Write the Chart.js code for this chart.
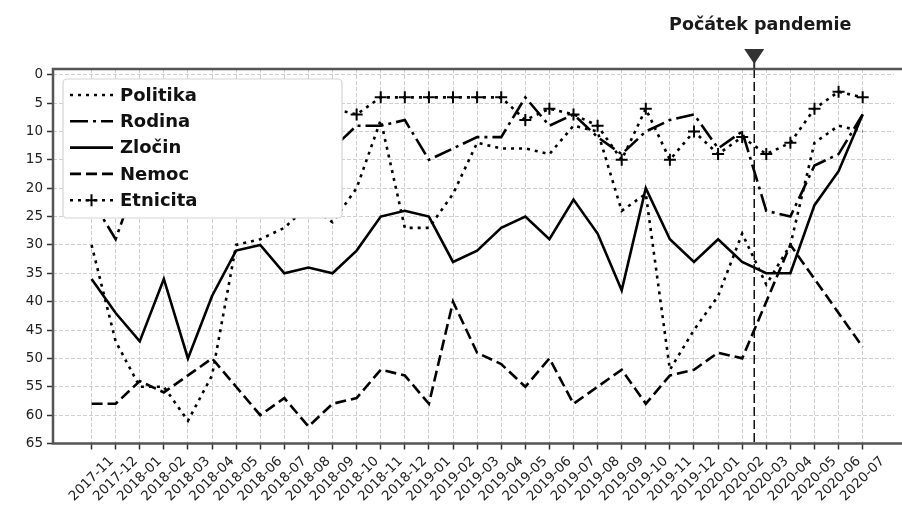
<!DOCTYPE html>
<html>
<head>
<meta charset="utf-8">
<title>Počátek pandemie</title>
<script src="https://cdn.jsdelivr.net/npm/chart.js@4.4.1/dist/chart.umd.min.js"></script>
<style>
  html, body { margin: 0; padding: 0; background: #fff; overflow: hidden; }
  #topics { display: block; }
</style>
</head>
<body>
<canvas id="topics" width="902" height="508"></canvas>
<script>
/*!
* data (rank of each topic per month, 1 = top)
*/
var months = ['2017-11', '2017-12', '2018-01', '2018-02', '2018-03', '2018-04', '2018-05', '2018-06',
    '2018-07', '2018-08', '2018-09', '2018-10', '2018-11', '2018-12', '2019-01', '2019-02', '2019-03',
    '2019-04', '2019-05', '2019-06', '2019-07', '2019-08', '2019-09', '2019-10', '2019-11', '2019-12',
    '2020-01', '2020-02', '2020-03', '2020-04', '2020-05', '2020-06', '2020-07'];
var politika = [30, 47, 55, 55, 61, 53, 30, 29, 27, 23, 26, 20, 8, 27, 27, 21, 12, 13, 13, 14, 9, 10, 24, 21, 52, 45, 39, 28, 37, 30, 12, 9, 10];
var rodina = [22, 29, 17, 15, 16, 13, 12, 14, 11, 12, 13, 9, 9, 8, 15, 13, 11, 11, 4, 9, 7, 11, 14, 10, 8, 7, 13, 10, 24, 25, 16, 14, 7];
var zlocin = [36, 42, 47, 36, 50, 39, 31, 30, 35, 34, 35, 31, 25, 24, 25, 33, 31, 27, 25, 29, 22, 28, 38, 20, 29, 33, 29, 33, 35, 35, 23, 17, 7];
var nemoc = [58, 58, 54, 56, 53, 50, 55, 60, 57, 62, 58, 57, 52, 53, 58, 40, 49, 51, 55, 50, 58, 55, 52, 58, 53, 52, 49, 50, 40, 30, 36, 42, 48];
var etnicita = [14, 15, 10, 8, 9, 7, 8, 6, 7, 5, 6, 7, 4, 4, 4, 4, 4, 4, 8, 6, 7, 9, 15, 6, 15, 10, 14, 11, 14, 12, 6, 3, 4];
var yTicks = [0, 5, 10, 15, 20, 25, 30, 35, 40, 45, 50, 55, 60, 65];
var pandemicAt = 27.5;   // between 2020-02 and 2020-03
var pandemicLabel = 'Počátek pandemie';

var FONT = 'DejaVu Sans';
var DOTTED = [3, 5];
var DASHED = [11, 5];
var DASHDOT = [18, 5, 3, 5];

Chart.defaults.font.family = FONT;

function series(label, values, dash, marker) {
    return {
        label: label,
        data: values.map(function (v, i) { return {x: i, y: v}; }),
        borderColor: '#000',
        backgroundColor: '#000',
        borderWidth: 2.6,
        borderDash: dash,
        borderCapStyle: 'butt',
        borderJoinStyle: 'miter',
        fill: false,
        tension: 0,
        pointStyle: 'cross',
        pointRadius: marker ? 6 : 0,
        pointHoverRadius: marker ? 6 : 0,
        pointBorderWidth: 2,
        pointBorderColor: '#000',
        marker: marker
    };
}

function roundBox(ctx, x, y, w, h, r) {
    ctx.beginPath();
    ctx.moveTo(x + r, y);
    ctx.arcTo(x + w, y, x + w, y + h, r);
    ctx.arcTo(x + w, y + h, x, y + h, r);
    ctx.arcTo(x, y + h, x, y, r);
    ctx.arcTo(x, y, x + w, y, r);
    ctx.closePath();
}

/*!
* extras: pandemic marker, spines, rotated month labels, legend box
*/
var decor = {
    id: 'decor',
    afterDraw: function (chart) {
        var ctx = chart.ctx;
        var area = chart.chartArea;
        var xs = chart.scales.x;
        var px = xs.getPixelForValue(pandemicAt);

        ctx.save();
        // vertical dashed line
        ctx.strokeStyle = '#111';
        ctx.lineWidth = 1.5;
        ctx.setLineDash([9, 4]);
        ctx.beginPath();
        ctx.moveTo(px, area.top);
        ctx.lineTo(px, area.bottom);
        ctx.stroke();
        ctx.setLineDash([]);

        // spines (the right one lies just outside the picture)
        ctx.strokeStyle = '#555';
        ctx.lineWidth = 2.5;
        ctx.beginPath();
        ctx.moveTo(chart.width, area.top);
        ctx.lineTo(area.left, area.top);
        ctx.lineTo(area.left, area.bottom);
        ctx.lineTo(chart.width, area.bottom);
        ctx.stroke();

        // arrow head above the plot
        ctx.fillStyle = '#333';
        ctx.beginPath();
        ctx.moveTo(px - 10, area.top - 20);
        ctx.lineTo(px + 10, area.top - 20);
        ctx.lineTo(px, area.top - 5);
        ctx.closePath();
        ctx.fill();
        ctx.strokeStyle = '#333';
        ctx.lineWidth = 2;
        ctx.beginPath();
        ctx.moveTo(px, area.top - 8);
        ctx.lineTo(px, area.top);
        ctx.stroke();

        ctx.fillStyle = '#1a1a1a';
        ctx.font = 'bold 17.5px "' + FONT + '"';
        ctx.textAlign = 'center';
        ctx.textBaseline = 'alphabetic';
        ctx.fillText(pandemicLabel, px + 6, 30);

        // month labels, rotated 45 deg and centred on their ticks
        ctx.fillStyle = '#222';
        ctx.font = '13.5px "' + FONT + '"';
        ctx.textAlign = 'center';
        ctx.textBaseline = 'middle';
        months.forEach(function (m, i) {
            var x = xs.getPixelForValue(i);
            var w = ctx.measureText(m).width;
            var h = 13.5 * 1.17;
            var cy = area.bottom + 10 + (w + h) * 0.3536;
            ctx.save();
            ctx.translate(x, cy);
            ctx.rotate(-Math.PI / 4);
            ctx.fillText(m, 0, 0);
            ctx.restore();
        });

        // legend, opaque box over the lines
        var lx = area.left + 10, ly = area.top + 10, lw = 279, lh = 139;
        ctx.fillStyle = '#ffffff';
        ctx.fillRect(lx, ly, lw, lh);
        roundBox(ctx, lx, ly, lw, lh, 4);
        ctx.strokeStyle = '#d4d4d4';
        ctx.lineWidth = 1.2;
        ctx.stroke();

        ctx.font = 'bold 18px "' + FONT + '"';
        ctx.textAlign = 'left';
        ctx.textBaseline = 'middle';
        chart.data.datasets.forEach(function (ds, i) {
            var ry = ly + 16 + i * 26.3;
            var x0 = lx + 7, x1 = lx + 50;
            ctx.strokeStyle = '#000';
            ctx.lineWidth = ds.borderWidth;
            ctx.lineCap = 'butt';
            ctx.setLineDash(ds.borderDash);
            ctx.beginPath();
            ctx.moveTo(x0, ry);
            ctx.lineTo(x1, ry);
            ctx.stroke();
            ctx.setLineDash([]);
            if (ds.marker) {
                var mx = (x0 + x1) / 2;
                ctx.lineWidth = 2;
                ctx.beginPath();
                ctx.moveTo(mx - 6, ry);
                ctx.lineTo(mx + 6, ry);
                ctx.moveTo(mx, ry - 6);
                ctx.lineTo(mx, ry + 6);
                ctx.stroke();
            }
            ctx.fillStyle = '#111';
            ctx.fillText(ds.label, lx + 57, ry + 1);
        });
        ctx.restore();
    }
};

var ctx = document.getElementById('topics').getContext('2d');
var topics = new Chart(ctx, {
    type: 'line',
    data: {
        datasets: [
            series('Politika', politika, DOTTED, false),
            series('Rodina', rodina, DASHDOT, false),
            series('Zločin', zlocin, [], false),
            series('Nemoc', nemoc, DASHED, false),
            series('Etnicita', etnicita, DOTTED, true)
        ]
    },
    options: {
        responsive: false,
        animation: false,
        events: [],
        layout: {
            padding: {top: 69, left: 0, right: 0, bottom: 0}
        },
        plugins: {
            legend: {display: false},
            tooltip: {enabled: false}
        },
        scales: {
            x: {
                type: 'linear',
                min: -1.6,
                max: 33.3,
                afterBuildTicks: function (scale) {
                    scale.ticks = months.map(function (m, i) { return {value: i}; });
                },
                afterFit: function (scale) {
                    scale.height = 64.5;
                },
                ticks: {display: false},
                grid: {
                    color: '#cfcfcf',
                    lineWidth: 1,
                    tickLength: 6,
                    tickColor: '#333',
                    tickWidth: 1.5,
                    tickBorderDash: []
                },
                border: {display: false, dash: [4, 2]}
            },
            y: {
                type: 'linear',
                reverse: true,
                min: -1,
                max: 65,
                afterBuildTicks: function (scale) {
                    scale.ticks = yTicks.map(function (v) { return {value: v}; });
                },
                afterFit: function (scale) {
                    scale.width = 53;
                },
                ticks: {
                    color: '#222',
                    font: {size: 13.5},
                    padding: 4
                },
                grid: {
                    color: '#cfcfcf',
                    lineWidth: 1,
                    tickLength: 6,
                    tickColor: '#333',
                    tickWidth: 1.5,
                    tickBorderDash: []
                },
                border: {display: false, dash: [4, 2]}
            }
        }
    },
    plugins: [decor]
});
</script>
</body>
</html>
